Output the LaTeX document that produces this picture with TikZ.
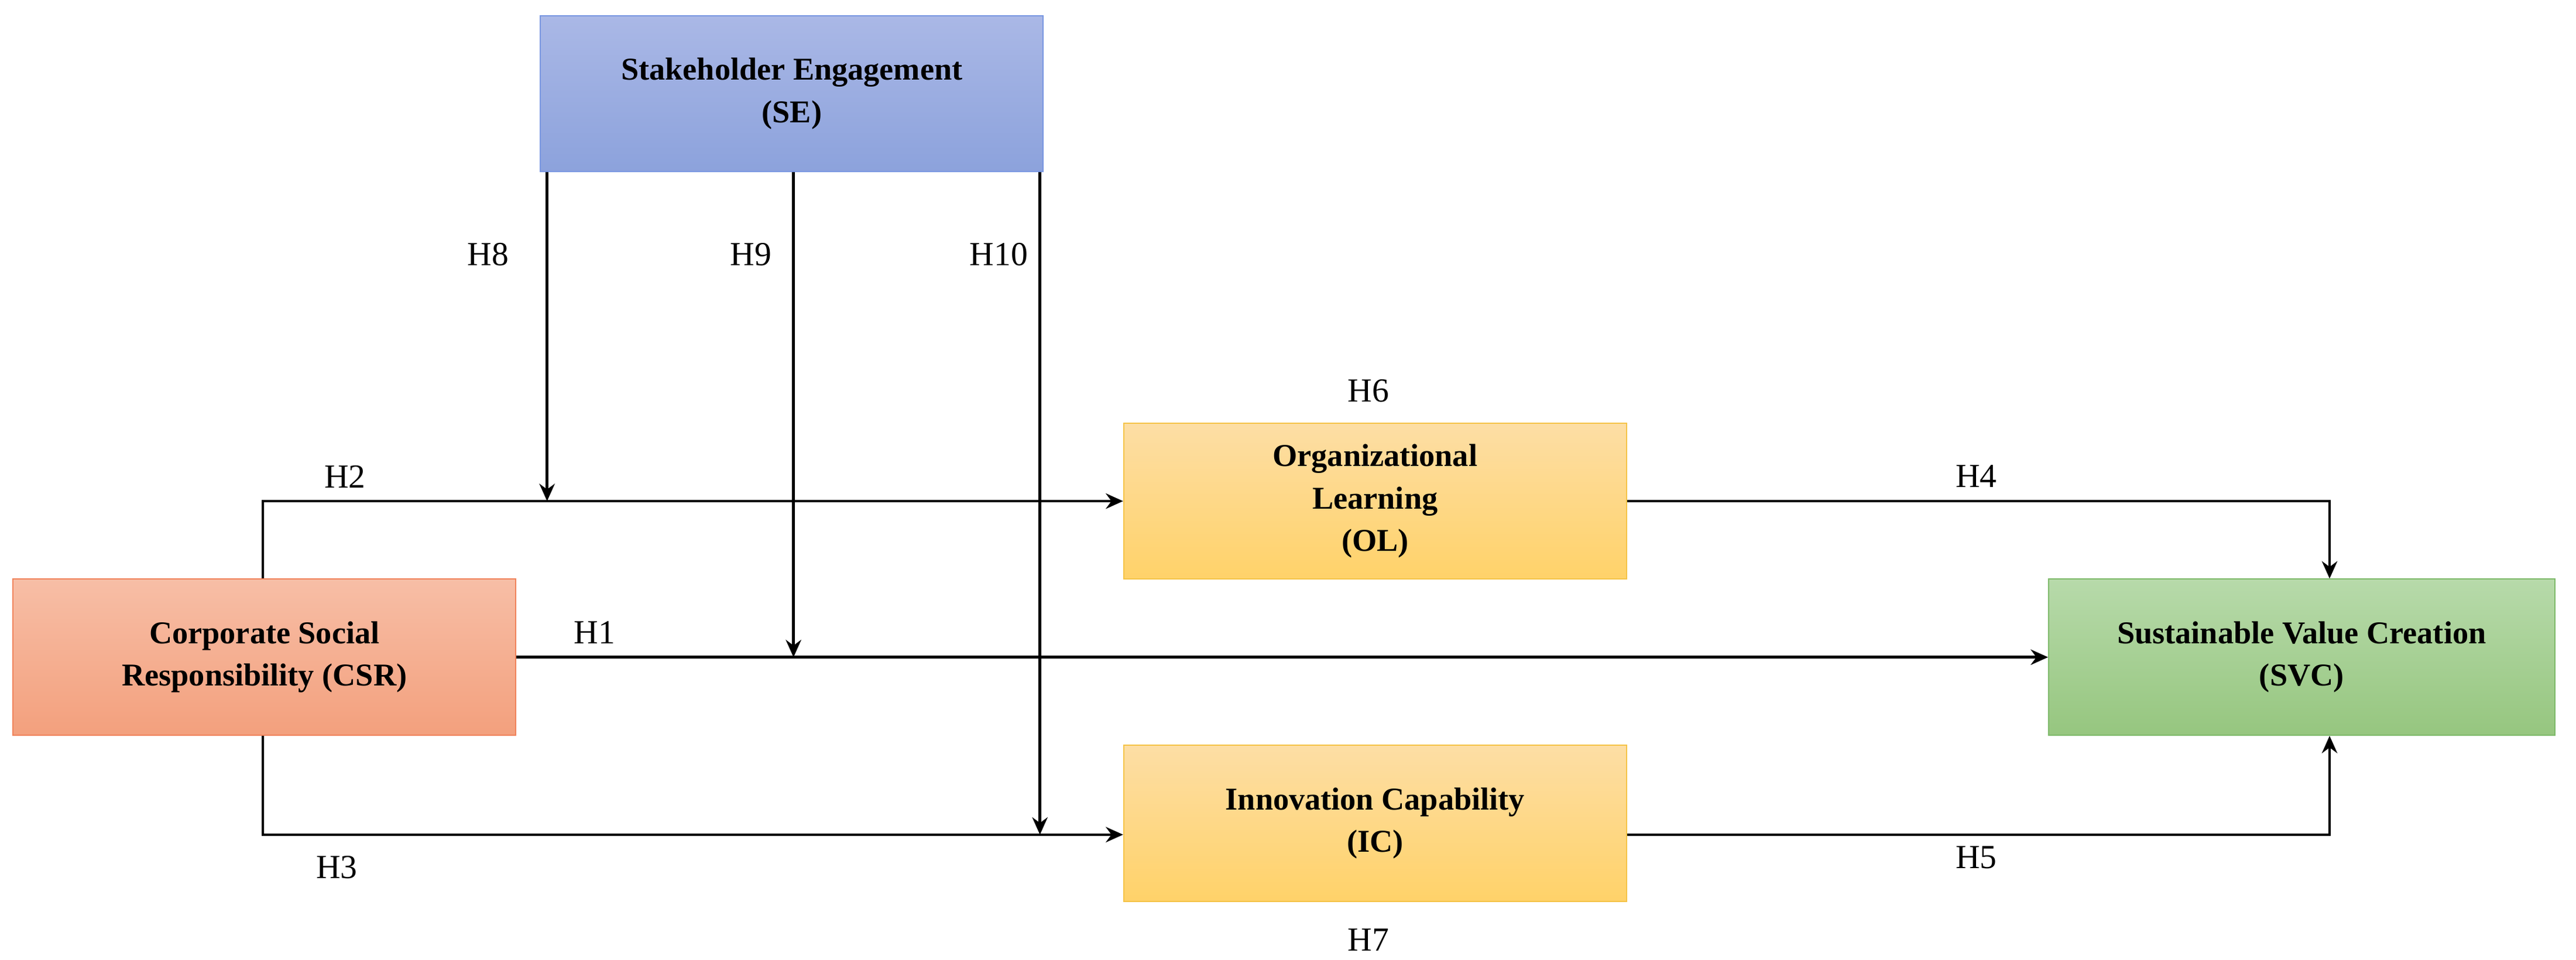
\documentclass[tikz,border=0pt]{standalone}
\usepackage{fontspec}
\setmainfont{Liberation Serif}
\usetikzlibrary{arrows.meta}
\begin{document}
\begin{tikzpicture}[x=0.03cm,y=-0.03cm,
 box/.style={draw,line width=0.6pt,minimum width=9.18cm,minimum height=2.85cm,align=center,font=\fontsize{16.5}{22}\selectfont\bfseries},
 lab/.style={font=\fontsize{17.5}{20}\selectfont},
 arr/.style={line width=1.4pt,-{Stealth[length=9pt,width=8pt]}},
 ln/.style={line width=1.3pt}]
\useasboundingbox (0,0) rectangle (1568,584);
\node[box,draw={rgb,255:red,120;green,150;blue,225},top color={rgb,255:red,170;green,184;blue,230},bottom color={rgb,255:red,140;green,162;blue,220}] (se) at (482,57) {Stakeholder Engagement\\(SE)};
\node[box,draw={rgb,255:red,240;green,130;blue,90},top color={rgb,255:red,247;green,190;blue,166},bottom color={rgb,255:red,243;green,160;blue,125}] (csr) at (161,400) {Corporate Social\\Responsibility (CSR)};
\node[box,draw={rgb,255:red,245;green,195;blue,70},top color={rgb,255:red,253;green,222;blue,165},bottom color={rgb,255:red,255;green,210;blue,105}] (ol) at (837,305) {Organizational\\Learning\\(OL)};
\node[box,draw={rgb,255:red,245;green,195;blue,70},top color={rgb,255:red,253;green,222;blue,165},bottom color={rgb,255:red,255;green,210;blue,105}] (ic) at (837,501) {Innovation Capability\\(IC)};
\node[box,minimum width=9.24cm,draw={rgb,255:red,125;green,185;blue,105},top color={rgb,255:red,183;green,218;blue,170},bottom color={rgb,255:red,150;green,198;blue,127}] (svc) at (1401,400) {Sustainable Value Creation\\(SVC)};
\coordinate (p2) at (333,305);
\coordinate (p1) at (483,400);
\coordinate (p3) at (633,508);
\draw[arr] (csr.north -| 160,0) -- (160,305) -- (ol.west |- 0,305);
\draw[arr] (csr.east) -- (svc.west);
\draw[arr] (csr.south -| 160,0) -- (160,508) -- (ic.west |- 0,508);
\draw[arr] (se.south -| 333,0) -- (p2);
\draw[arr] (se.south -| 483,0) -- (p1);
\draw[arr] (se.south -| 633,0) -- (p3);
\draw[arr] (ol.east |- 0,305) -- (1418,305) -- (svc.north -| 1418,0);
\draw[arr] (ic.east |- 0,508) -- (1418,508) -- (svc.south -| 1418,0);
\node[lab] (h2) at (210,290) {H2};
\node[lab] (h1) at (362,385) {H1};
\node[lab] (h3) at (205,528) {H3};
\node[lab] (h8) at (297,155) {H8};
\node[lab] (h9) at (457,155) {H9};
\node[lab] (h10) at (608,155) {H10};
\node[lab] (h6) at (833,238) {H6};
\node[lab] (h7) at (833,572) {H7};
\node[lab] (h4) at (1203,290) {H4};
\node[lab] (h5) at (1203,522) {H5};
\end{tikzpicture}
\end{document}
